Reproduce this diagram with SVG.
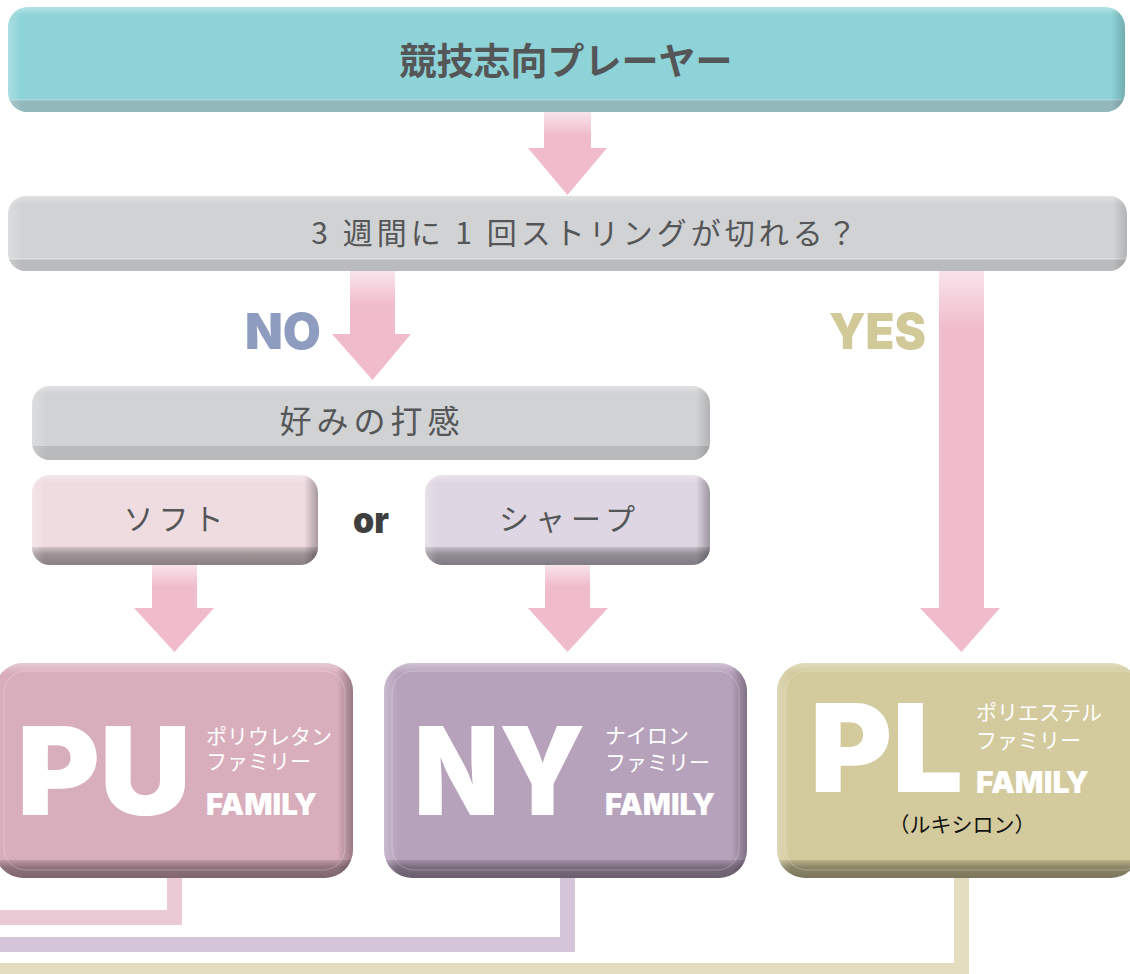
<svg xmlns="http://www.w3.org/2000/svg" width="1130" height="974" viewBox="0 0 1130 974">
<style>
.jp{font-family:"Noto Sans CJK JP","Noto Sans",sans-serif;}
.dark{fill:#555657;}
.lat{font-family:Inter,Lato,"Liberation Sans",sans-serif;font-weight:900;}
.big{font-size:122px;fill:#ffffff;}
.fam{font-size:30px;fill:#ffffff;}
.sub{font-size:21px;fill:#ffffff;}
.arrow{fill:#F0BBCB;}
.conn{fill:none;stroke-width:15;stroke-linejoin:miter;}
</style>
<defs>
<linearGradient id="gTop" x1="0" y1="0" x2="0" y2="1"><stop offset="0" stop-color="#fff" stop-opacity="0.35"/><stop offset="1" stop-color="#fff" stop-opacity="0"/></linearGradient>
<linearGradient id="gLeft" x1="0" y1="0" x2="1" y2="0"><stop offset="0" stop-color="#fff" stop-opacity="0.25"/><stop offset="1" stop-color="#fff" stop-opacity="0"/></linearGradient>
<linearGradient id="gRight" x1="0" y1="0" x2="1" y2="0"><stop offset="0" stop-color="#000" stop-opacity="0"/><stop offset="1" stop-color="#000" stop-opacity="0.3"/></linearGradient>
<linearGradient id="gBand" x1="0" y1="0" x2="0" y2="1"><stop offset="0" stop-color="#000" stop-opacity="0.12"/><stop offset="0.4" stop-color="#000" stop-opacity="0.34"/><stop offset="1" stop-color="#000" stop-opacity="0.42"/></linearGradient>
<linearGradient id="gShaft" x1="0" y1="0" x2="0" y2="1"><stop offset="0" stop-color="#fff" stop-opacity="0.6"/><stop offset="1" stop-color="#fff" stop-opacity="0"/></linearGradient>
<clipPath id="c1"><rect x="8" y="7" width="1117" height="105" rx="20"/></clipPath>
<clipPath id="c2"><rect x="8" y="196" width="1119" height="75" rx="18"/></clipPath>
<clipPath id="c3"><rect x="32" y="386" width="678" height="74" rx="18"/></clipPath>
<clipPath id="c4"><rect x="32" y="475" width="286" height="90" rx="18"/></clipPath>
<clipPath id="c5"><rect x="425" y="475" width="285" height="90" rx="18"/></clipPath>
<clipPath id="c6"><rect x="-5" y="663" width="358" height="215" rx="28"/></clipPath>
<clipPath id="c7"><rect x="384" y="663" width="363" height="215" rx="28"/></clipPath>
<clipPath id="c8"><rect x="777" y="663" width="362" height="215" rx="28"/></clipPath>
</defs>

<g id="connectors">
<path class="conn" stroke="#EACBD5" d="M174.5 878 V917.5 H-10"/>
<path class="conn" stroke="#D4C5D8" d="M567.5 878 V944.5 H-10"/>
<path class="conn" stroke="#E4DDC0" d="M961.5 878 V970.5 H-10"/>
<g id="arrows">
<path class="arrow" d="M544 112 H591 V148 H607 L567.5 195 L528 148 H544 Z"/>
<rect x="544" y="112" width="47" height="24" fill="url(#gShaft)"/>
<path class="arrow" d="M350 271 H395 V334 H411 L372.5 380 L332 334 H350 Z"/>
<rect x="350" y="271" width="45" height="36" fill="url(#gShaft)"/>
<path class="arrow" d="M939 271 H984 V608 H1000 L961.5 652 L920 608 H939 Z"/>
<rect x="939" y="271" width="45" height="60" fill="url(#gShaft)"/>
<path class="arrow" d="M152 565 H197 V608 H214 L174.5 652 L134 608 H152 Z"/>
<rect x="152" y="565" width="45" height="22" fill="url(#gShaft)"/>
<path class="arrow" d="M545 565 H590 V608 H608 L567.5 652 L528 608 H545 Z"/>
<rect x="545" y="565" width="45" height="22" fill="url(#gShaft)"/>
</g>
</g>

<g id="n-top">
<g clip-path="url(#c1)">
<rect x="8" y="7" width="1117" height="105" fill="#8DD3D7"/>
<rect x="8" y="99" width="1117" height="13" fill="#92B8BC"/>
<rect x="8" y="99" width="1117" height="1.5" fill="#A6D6D9"/>
<rect x="8" y="7" width="1117" height="8" fill="url(#gTop)"/>
<rect x="8" y="7" width="14" height="105" fill="url(#gLeft)"/>
<rect x="1111" y="7" width="14" height="105" fill="url(#gRight)" opacity="0.6"/>
</g>
<text class="jp dark" x="566" y="75" font-size="37" font-weight="700" text-anchor="middle">競技志向プレーヤー</text>
</g>

<g id="n-q">
<g clip-path="url(#c2)">
<rect x="8" y="196" width="1119" height="75" fill="#D1D2D4"/>
<rect x="8" y="258" width="1119" height="13" fill="#BABBBD"/>
<rect x="8" y="258" width="1119" height="1.5" fill="#DCDDDE"/>
<rect x="8" y="196" width="1119" height="8" fill="url(#gTop)"/>
<rect x="8" y="196" width="14" height="75" fill="url(#gLeft)"/>
<rect x="1113" y="196" width="14" height="75" fill="url(#gRight)" opacity="0.5"/>
</g>
<text class="jp dark" x="586" y="244" font-size="30" letter-spacing="4" text-anchor="middle">3 週間に 1 回ストリングが切れる？</text>
</g>

<g id="n-feel">
<g clip-path="url(#c3)">
<rect x="32" y="386" width="678" height="74" fill="#D1D2D4"/>
<rect x="32" y="446" width="678" height="14" fill="#B9BABC"/>
<rect x="32" y="386" width="678" height="8" fill="url(#gTop)"/>
<rect x="32" y="386" width="14" height="74" fill="url(#gLeft)"/>
<rect x="696" y="386" width="14" height="74" fill="url(#gRight)" opacity="0.5"/>
</g>
<text class="jp dark" x="372" y="433" font-size="32" letter-spacing="5" text-anchor="middle">好みの打感</text>
</g>

<g id="n-soft">
<g clip-path="url(#c4)">
<rect x="32" y="475" width="286" height="90" fill="#EFDCE1"/>
<rect x="32" y="547" width="286" height="18" fill="url(#gBand)"/>
<rect x="32" y="475" width="286" height="8" fill="url(#gTop)"/>
<rect x="32" y="475" width="12" height="90" fill="url(#gLeft)"/>
<rect x="304" y="475" width="14" height="90" fill="url(#gRight)"/>
</g>
<text class="jp dark" x="176" y="530" font-size="30" letter-spacing="5" text-anchor="middle">ソフト</text>
</g>

<text id="t-or" class="lat" x="353" y="533" font-size="36" fill="#3F3F40" textLength="36" lengthAdjust="spacingAndGlyphs">or</text>

<g id="n-sharp">
<g clip-path="url(#c5)">
<rect x="425" y="475" width="285" height="90" fill="#DED6E2"/>
<rect x="425" y="547" width="285" height="18" fill="url(#gBand)"/>
<rect x="425" y="475" width="285" height="8" fill="url(#gTop)"/>
<rect x="425" y="475" width="12" height="90" fill="url(#gLeft)"/>
<rect x="696" y="475" width="14" height="90" fill="url(#gRight)"/>
</g>
<text class="jp dark" x="570" y="530" font-size="30" letter-spacing="6" text-anchor="middle">シャープ</text>
</g>

<text id="t-no" class="lat" x="245" y="349" font-size="50" fill="#8E9DBF" textLength="76" lengthAdjust="spacingAndGlyphs">NO</text>
<text id="t-yes" class="lat" x="829" y="349" font-size="50" fill="#D1C998" textLength="97" lengthAdjust="spacingAndGlyphs">YES</text>

<g id="n-pu">
<g clip-path="url(#c6)">
<rect x="-5" y="663" width="358" height="215" fill="#D9AEBC"/>
<rect x="-5" y="860" width="358" height="18" fill="url(#gBand)"/>
<rect x="-5" y="663" width="358" height="10" fill="url(#gTop)"/>
<rect x="337" y="663" width="16" height="215" fill="url(#gRight)"/>
<rect x="4" y="671" width="341" height="199" rx="22" fill="none" stroke="#fff" stroke-opacity="0.25" stroke-width="1"/>
</g>
<text class="lat big" x="17" y="815" textLength="174" lengthAdjust="spacingAndGlyphs">PU</text>
<text class="jp sub" x="206" y="744">ポリウレタン</text>
<text class="jp sub" x="206" y="769">ファミリー</text>
<text class="lat fam" x="206" y="815" textLength="111" lengthAdjust="spacingAndGlyphs">FAMILY</text>
</g>

<g id="n-ny">
<g clip-path="url(#c7)">
<rect x="384" y="663" width="363" height="215" fill="#B7A2BC"/>
<rect x="384" y="860" width="363" height="18" fill="url(#gBand)"/>
<rect x="384" y="663" width="363" height="10" fill="url(#gTop)"/>
<rect x="384" y="663" width="14" height="215" fill="url(#gLeft)"/>
<rect x="731" y="663" width="16" height="215" fill="url(#gRight)"/>
<rect x="392" y="671" width="347" height="199" rx="22" fill="none" stroke="#fff" stroke-opacity="0.25" stroke-width="1"/>
</g>
<text class="lat big" x="414" y="815" textLength="171" lengthAdjust="spacingAndGlyphs">NY</text>
<text class="jp sub" x="605" y="743">ナイロン</text>
<text class="jp sub" x="605" y="770">ファミリー</text>
<text class="lat fam" x="605" y="815" textLength="110" lengthAdjust="spacingAndGlyphs">FAMILY</text>
</g>

<g id="n-pl">
<g clip-path="url(#c8)">
<rect x="777" y="663" width="362" height="215" fill="#D3CA9D"/>
<rect x="777" y="860" width="362" height="18" fill="url(#gBand)"/>
<rect x="777" y="663" width="362" height="10" fill="url(#gTop)"/>
<rect x="777" y="663" width="14" height="215" fill="url(#gLeft)"/>
<rect x="785" y="671" width="360" height="199" rx="22" fill="none" stroke="#fff" stroke-opacity="0.25" stroke-width="1"/>
</g>
<text class="lat big" x="810" y="792" textLength="153" lengthAdjust="spacingAndGlyphs">PL</text>
<text class="jp sub" x="976" y="720" font-size="22">ポリエステル</text>
<text class="jp sub" x="976" y="748" font-size="22">ファミリー</text>
<text class="lat fam" x="976" y="793" textLength="113" lengthAdjust="spacingAndGlyphs">FAMILY</text>
<text class="jp" x="962" y="832" font-size="21" fill="#111" text-anchor="middle">（ルキシロン）</text>
</g>
</svg>
